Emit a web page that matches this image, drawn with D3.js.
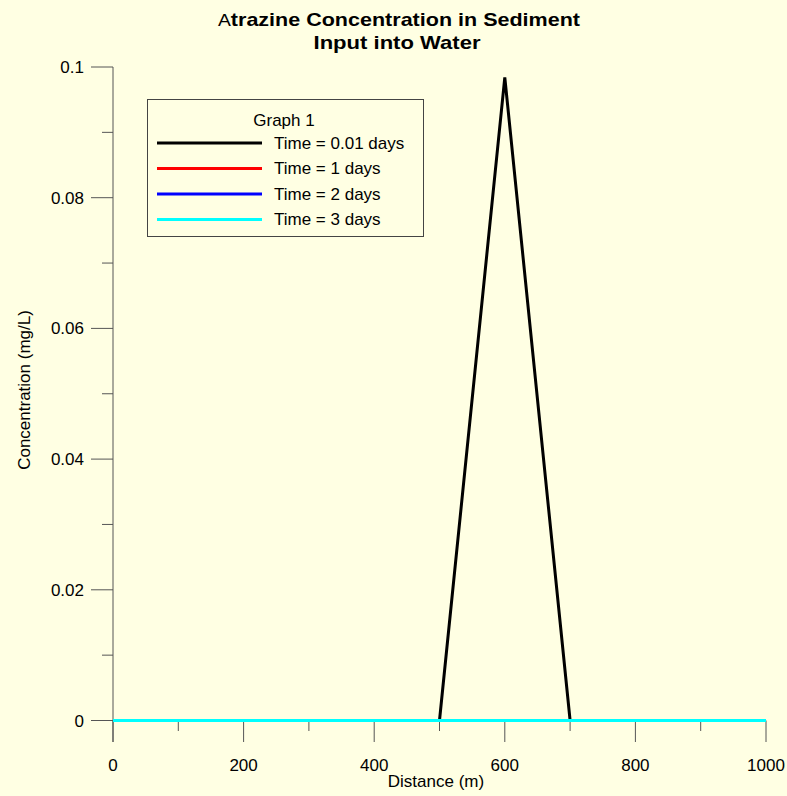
<!DOCTYPE html>
<html>
<head>
<meta charset="utf-8">
<script src="https://cdn.jsdelivr.net/npm/d3@7"></script>
<style>
  body { margin: 0; background: #FFFFE3; }
  svg { display: block; font-family: Arial, "Liberation Sans", sans-serif; }
</style>
</head>
<body>
<svg id="chart" width="787" height="796"></svg>
<script>
// distance along the stream (m)
const distance = [0, 100, 200, 300, 400, 500, 600, 700, 800, 900, 1000]
// concentrations (mg/L) for each time
const t001 = [0, 0, 0, 0, 0, 0, 0.0984, 0, 0, 0, 0]
const t1 = [0, 0, 0, 0, 0, 0, 0, 0, 0, 0, 0]
const t2 = [0, 0, 0, 0, 0, 0, 0, 0, 0, 0, 0]
const t3 = [0, 0, 0, 0, 0, 0, 0, 0, 0, 0, 0]
const seriesNames = ["Time = 0.01 days", "Time = 1 days", "Time = 2 days", "Time = 3 days"]
const seriesColors = ["#000000", "#FF0000", "#0000FF", "#00FFFF"]
const xTicks = [0, 200, 400, 600, 800, 1000]
const yTicks = [0, 0.02, 0.04, 0.06, 0.08, 0.1]

const series = [t001, t1, t2, t3].map((vals, i) => ({
  name: seriesNames[i],
  color: seriesColors[i],
  values: vals.map((v, j) => ({ x: distance[j], y: v }))
}))

const svg = d3.select("#chart")
const axisColor = "#555"
const fs = "17px"

const x = d3.scaleLinear().domain([0, 1000]).range([113, 766])
const y = d3.scaleLinear().domain([0, 0.1]).range([720.5, 67])

// title (font in the original is a bit wider than Arial, so stretch it)
const title = svg.append("text")
    .attr("x", 399).attr("y", 26)
    .attr("text-anchor", "middle")
    .attr("textLength", 362)
    .attr("lengthAdjust", "spacingAndGlyphs")
    .style("font-size", "19px")
    .style("font-weight", "bold")
title.append("tspan").style("font-weight", "normal").style("font-size", "17px").text("A")
title.append("tspan").text("trazine Concentration in Sediment")
svg.append("text")
    .attr("x", 397).attr("y", 49)
    .attr("text-anchor", "middle")
    .attr("textLength", 167)
    .attr("lengthAdjust", "spacingAndGlyphs")
    .style("font-size", "19px")
    .style("font-weight", "bold")
    .text("Input into Water")

// y axis
const gy = svg.append("g")
gy.append("line")
    .attr("x1", 113).attr("x2", 113)
    .attr("y1", y(0.1)).attr("y2", 742)
    .attr("stroke", axisColor).attr("stroke-width", 1)
const yMinor = d3.range(0.01, 0.1, 0.02)
gy.selectAll(".ymaj").data(yTicks).join("line")
    .attr("x1", 91).attr("x2", 113)
    .attr("y1", d => y(d)).attr("y2", d => y(d))
    .attr("stroke", axisColor)
gy.selectAll(".ymin").data(yMinor).join("line")
    .attr("class", "ymin")
    .attr("x1", 102).attr("x2", 113)
    .attr("y1", d => y(d)).attr("y2", d => y(d))
    .attr("stroke", axisColor)
gy.selectAll("text").data(yTicks).join("text")
    .attr("x", 84).attr("y", d => y(d) + 6)
    .attr("text-anchor", "end")
    .style("font-size", fs)
    .text(d => d3.format("")(+d.toFixed(2)))

// x axis
const gx = svg.append("g")
gx.append("line")
    .attr("x1", x(0)).attr("x2", x(1000))
    .attr("y1", y(0)).attr("y2", y(0))
    .attr("stroke", axisColor)
const xMinor = d3.range(100, 1000, 200)
gx.selectAll(".xmaj").data(xTicks).join("line")
    .attr("x1", d => x(d)).attr("x2", d => x(d))
    .attr("y1", y(0)).attr("y2", 742)
    .attr("stroke", axisColor)
gx.selectAll(".xmin").data(xMinor).join("line")
    .attr("class", "xmin")
    .attr("x1", d => x(d)).attr("x2", d => x(d))
    .attr("y1", y(0)).attr("y2", 731)
    .attr("stroke", axisColor)
gx.selectAll("text").data(xTicks).join("text")
    .attr("x", d => x(d)).attr("y", 771)
    .attr("text-anchor", "middle")
    .style("font-size", fs)
    .text(d => d)

// axis labels
svg.append("text")
    .attr("x", 436).attr("y", 787)
    .attr("text-anchor", "middle")
    .style("font-size", fs)
    .text("Distance (m)")
svg.append("text")
    .attr("transform", "translate(30,390) rotate(-90)")
    .attr("text-anchor", "middle")
    .style("font-size", fs)
    .text("Concentration (mg/L)")

// data lines
const line = d3.line().x(d => x(d.x)).y(d => y(d.y))
svg.append("g").selectAll("path").data(series).join("path")
    .attr("d", d => line(d.values))
    .attr("fill", "none")
    .attr("stroke", d => d.color)
    .attr("stroke-width", 3)
    .attr("stroke-linejoin", "miter")

// legend
const lg = svg.append("g")
lg.append("rect")
    .attr("x", 147.5).attr("y", 99.5)
    .attr("width", 276).attr("height", 137)
    .attr("fill", "none").attr("stroke", "#444")
lg.append("text")
    .attr("x", 284).attr("y", 126)
    .attr("text-anchor", "middle")
    .style("font-size", fs)
    .text("Graph 1")
const items = lg.selectAll(".item").data(series).join("g")
    .attr("transform", (d, i) => `translate(0,${143 + i * 25.5})`)
items.append("line")
    .attr("x1", 157).attr("x2", 262)
    .attr("stroke", d => d.color).attr("stroke-width", 3)
items.append("text")
    .attr("x", 274).attr("y", 5.5)
    .style("font-size", fs)
    .text(d => d.name)
</script>
</body>
</html>
